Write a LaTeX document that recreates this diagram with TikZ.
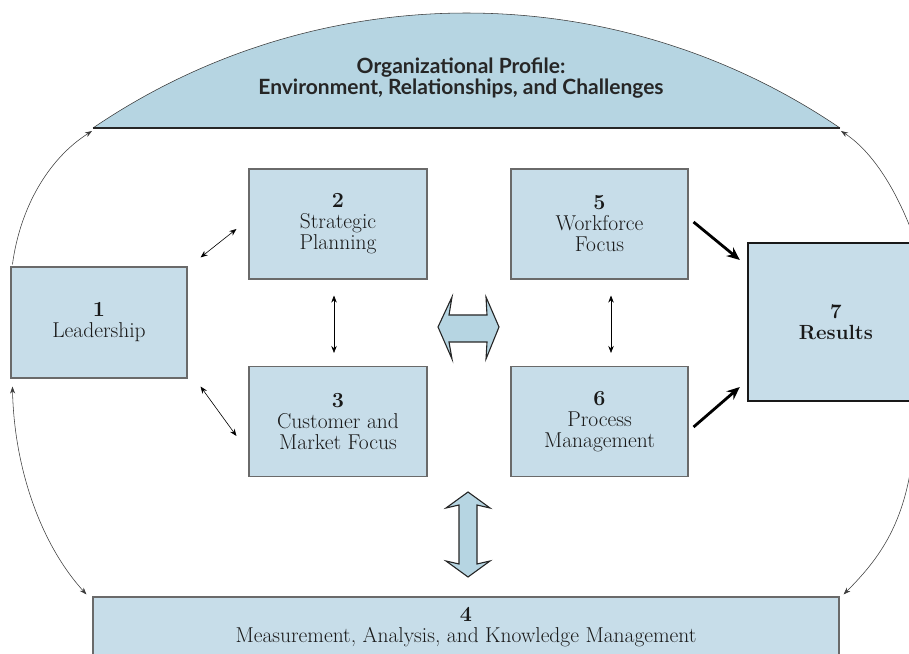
\documentclass[tikz,border=0pt]{standalone}
\usepackage{fontspec}
\newfontfamily\domefont{Lato}
\usetikzlibrary{arrows.meta,calc}
\definecolor{boxblue}{HTML}{C7DDE9}
\definecolor{domeblue}{HTML}{B6D5E2}
\definecolor{boxline}{HTML}{6A6A6A}
\definecolor{arcline}{HTML}{3A3A3A}
\begin{document}
\begin{tikzpicture}[x=1pt,y=1pt,
  cbox/.style={draw=boxline, line width=1.1pt, fill=boxblue, minimum width=178pt,
    minimum height=110pt, align=center, inner sep=0pt, text=black!90,
    font=\fontsize{21.5}{21}\selectfont},
  smallarr/.style={{Stealth[length=7pt,width=5.5pt]}-{Stealth[length=7pt,width=5.5pt]}, line width=0.6pt},
  bigarr/.style={-{Stealth[length=13pt,width=11pt]}, line width=2.8pt},
  outerarc/.style={line width=0.55pt, draw=arcline},
  blockarr/.style={draw=black!85, line width=1.1pt, fill=domeblue, line join=miter}
]
\useasboundingbox (0,0) rectangle (909,653);
\clip (0,0) rectangle (909,653);

% dome
\coordinate (domeL) at (93,525);
\coordinate (domeR) at (840,525);
\fill[domeblue] (domeL) arc[start angle=124.23, end angle=55.77, radius=664] -- cycle;
\draw[line width=0.55pt, draw=arcline] (domeL) arc[start angle=124.23, end angle=55.77, radius=664];
\draw[line width=1.4pt, draw=black!85] (domeL) -- (domeR);
\node[font=\fontsize{21}{21.5}\domefont\bfseries, align=center, text=black!85] (prof) at (461,575)
  {Organizational Profile:\\Environment, Relationships, and Challenges};

% boxes
\node[cbox, minimum width=176pt, minimum height=111pt] (lead) at (99,330.5) {\textbf{1}\\Leadership};
\node[cbox] (strat) at (338,429) {\textbf{2}\\Strategic\\Planning};
\node[cbox] (cust) at (338,231.5) {\textbf{3}\\Customer and\\Market Focus};
\node[cbox, minimum width=177pt] (work) at (599.5,429) {\textbf{5}\\Workforce\\Focus};
\node[cbox, minimum width=177pt] (proc) at (599.5,231.5) {\textbf{6}\\Process\\Management};
\node[cbox, draw=black!90, line width=2.4pt, minimum width=176pt, minimum height=158pt, font=\fontsize{20.5}{21}\selectfont] (res) at (836,331) {\textbf{7}\\\textbf{Results}};
\node[cbox, minimum width=746pt, minimum height=60pt] (meas) at (466,26) {\textbf{4}\\Measurement, Analysis, and Knowledge Management};

% small arrows
\draw[smallarr] ([shift={(13,9)}]lead.north east) -- ([shift={(-12,-5)}]strat.west);
\draw[smallarr] ([shift={(13,-8)}]lead.south east) -- ([shift={(-12,-14.5)}]cust.west);
\draw[smallarr] ([shift={(-4,-16)}]strat.south) -- ([shift={(-4,13)}]cust.north);
\draw[smallarr] ([shift={(11.5,-16)}]work.south) -- ([shift={(11.5,13)}]proc.north);

% thick arrows to results
\draw[bigarr] ([shift={(5,2)}]work.east) -- ([shift={(-7,62)}]res.west);
\draw[bigarr] ([shift={(5,-5.5)}]proc.east) -- ([shift={(-7,-65)}]res.west);

% outer arcs
\draw[outerarc, -{Stealth[length=7pt,width=5pt]}] ([shift={(2,2)}]lead.north west) .. controls (20,445) and (48,494) .. ([shift={(-1,-3)}]domeL);
\draw[outerarc, -{Stealth[length=7pt,width=5pt]}] (915,413) .. controls (895,468) and (870,503) .. ([shift={(1,-3)}]domeR);
\draw[outerarc, {Stealth[length=7pt,width=5pt]}-{Stealth[length=7pt,width=5pt]}] ([shift={(2,-8)}]lead.south west) .. controls (14,190) and (38,112) .. ([shift={(-6,2)}]meas.north west);
\draw[outerarc, -{Stealth[length=7pt,width=5pt]}] (913,200) .. controls (905,130) and (880,95) .. ([shift={(4,2)}]meas.north east);

% block arrows
\draw[blockarr] (438,326) -- (452,356) -- (449,338) -- (487,338) -- (486,356) -- (499,326)
  -- (486,294) -- (487,311) -- (449,311) -- (452,294) -- cycle;
\draw[blockarr] (468,161) -- (446,145) -- (459,148) -- (459,89) -- (446,92) -- (468,76)
  -- (490,92) -- (477,89) -- (477,148) -- (490,145) -- cycle;
\end{tikzpicture}
\end{document}
